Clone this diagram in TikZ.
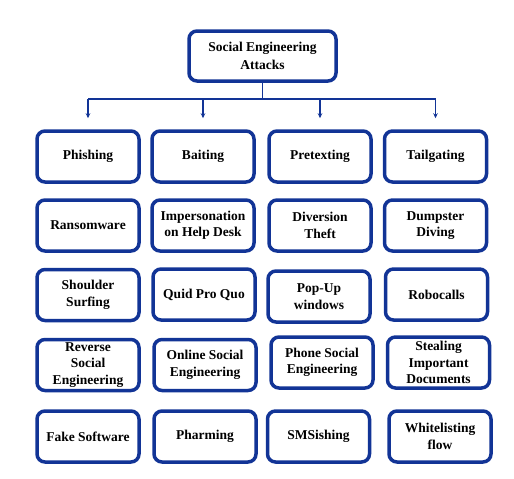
\documentclass[tikz,border=0pt]{standalone}
\usepackage{fontspec}
\setmainfont{Liberation Serif}
\usetikzlibrary{arrows.meta}
\definecolor{sebl}{RGB}{18,52,150}
\begin{document}
\begin{tikzpicture}[x=1pt,y=-1pt,
  cell/.style={draw=sebl, line width=3.5pt, rounded corners=8pt, fill=white,
    minimum width=102pt, minimum height=51pt, align=center, inner sep=1pt,
    font=\fontsize{13.5}{16.5}\selectfont\bfseries},
  topcell/.style={cell, minimum width=147pt, minimum height=50pt},
  link/.style={draw=sebl, line width=1.4pt},
  arr/.style={link, -{Stealth[length=5pt,width=4.5pt]}}]
\useasboundingbox (0,0) rectangle (514,479);
\node[topcell] (top) at (262.5,56) {Social Engineering\\[1pt]Attacks};
% rows
\node[cell] (a1) at (88,156.5) {Phishing};
\node[cell] (b1) at (203,156.5) {Baiting};
\node[cell] (c1) at (320,156.5) {Pretexting};
\node[cell] (d1) at (435.5,156.5) {Tailgating};
\node[cell] (a2) at (88,225.5) {Ransomware};
\node[cell] (b2) at (203,225.5) {Impersonation\\on Help Desk};
\node[cell] (c2) at (320,225.5) {Diversion\\Theft};
\node[cell] (d2) at (435.5,225.5) {Dumpster\\Diving};
\node[cell] (a3) at (88,295) {Shoulder\\Surfing};
\node[cell] (b3) at (204,294.5) {Quid Pro Quo};
\node[cell] (c3) at (319,296.5) {Pop-Up\\windows};
\node[cell] (d3) at (436.5,294.5) {Robocalls};
\node[cell] (a4) at (88,365) {Reverse\\Social\\Engineering};
\node[cell] (b4) at (205,365) {Online Social\\Engineering};
\node[cell] (c4) at (322,362.5) {Phone Social\\Engineering};
\node[cell] (d4) at (438.5,362.5) {Stealing\\Important\\Documents};
\node[cell] (a5) at (88,436.5) {Fake Software};
\node[cell] (b5) at (205,436.5) {Pharming};
\node[cell] (c5) at (318.5,436.5) {SMSishing};
\node[cell] (d5) at (440,436.5) {Whitelisting\\flow};
% connectors
\coordinate (hub) at (top.south |- 0,99);
\coordinate (ha) at (a1.north |- 0,99);
\coordinate (hd) at (d1.north |- 0,99);
\coordinate (hb) at (b1.north |- 0,99);
\coordinate (hc) at (c1.north |- 0,99);
\draw[link] (top.south) -- (hub);
\draw[link] (ha) -- (hd);
\draw[arr] (ha) -- ([yshift=11pt]a1.north);
\draw[arr] (hb) -- ([yshift=11pt]b1.north);
\draw[arr] (hc) -- ([yshift=11pt]c1.north);
\draw[arr] (hd) -- ([yshift=11pt]d1.north);
\end{tikzpicture}
\end{document}
